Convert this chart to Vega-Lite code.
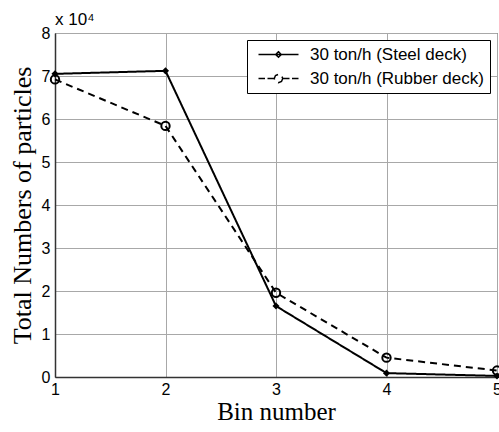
{
  "$schema": "https://vega.github.io/schema/vega-lite/v6.json",
  "width": 442,
  "height": 344,
  "padding": {"left": 55, "top": 33, "right": 2, "bottom": 55},
  "autosize": {"type": "none"},
  "background": "white",
  "title": {
    "text": "x 10⁴",
    "anchor": "start",
    "frame": "group",
    "font": "Liberation Sans",
    "fontSize": 17,
    "fontWeight": "normal",
    "color": "black",
    "offset": -4
  },
  "config": {
    "view": {"stroke": "#333333", "strokeWidth": 1},
    "axis": {
      "labelFont": "Liberation Sans",
      "labelFontSize": 16,
      "labelColor": "black",
      "titleFont": "Liberation Serif",
      "titleFontSize": 26,
      "titleFontWeight": "normal",
      "titleColor": "black",
      "grid": true,
      "gridColor": "#a8a8a8",
      "gridWidth": 1,
      "ticks": false,
      "domainColor": "#333333",
      "domainWidth": 1.5
    }
  },
  "data": {
    "values": [
      {"bin": 1, "count": 70500, "series": "30 ton/h (Steel deck)"},
      {"bin": 2, "count": 71200, "series": "30 ton/h (Steel deck)"},
      {"bin": 3, "count": 16500, "series": "30 ton/h (Steel deck)"},
      {"bin": 4, "count": 900, "series": "30 ton/h (Steel deck)"},
      {"bin": 5, "count": 250, "series": "30 ton/h (Steel deck)"},
      {"bin": 1, "count": 69200, "series": "30 ton/h (Rubber deck)"},
      {"bin": 2, "count": 58400, "series": "30 ton/h (Rubber deck)"},
      {"bin": 3, "count": 19600, "series": "30 ton/h (Rubber deck)"},
      {"bin": 4, "count": 4500, "series": "30 ton/h (Rubber deck)"},
      {"bin": 5, "count": 1500, "series": "30 ton/h (Rubber deck)"}
    ]
  },
  "encoding": {
    "x": {
      "field": "bin",
      "type": "quantitative",
      "scale": {"domain": [1, 5], "nice": false, "zero": false},
      "axis": {"values": [1, 2, 3, 4, 5], "title": "Bin number", "titleFontSize": 25, "labelPadding": 4, "titlePadding": 2, "labelFlush": false}
    },
    "y": {
      "field": "count",
      "type": "quantitative",
      "scale": {"domain": [0, 80000], "nice": false},
      "axis": {
        "values": [0, 10000, 20000, 30000, 40000, 50000, 60000, 70000, 80000],
        "labelExpr": "datum.value / 10000",
        "title": "Total Numbers of particles",
        "labelPadding": 5,
        "titlePadding": 6
      }
    }
  },
  "layer": [
    {
      "mark": {"type": "line", "color": "black", "strokeWidth": 2},
      "encoding": {
        "strokeDash": {
          "field": "series",
          "type": "nominal",
          "scale": {"domain": ["30 ton/h (Steel deck)", "30 ton/h (Rubber deck)"], "range": [[1, 0], [7, 5]]}
        }
      }
    },
    {
      "transform": [{"filter": "datum.series == '30 ton/h (Steel deck)'"}],
      "mark": {"type": "point", "shape": "diamond", "filled": true, "color": "black", "size": 50, "opacity": 1}
    },
    {
      "transform": [{"filter": "datum.series == '30 ton/h (Rubber deck)'"}],
      "mark": {"type": "point", "shape": "circle", "filled": false, "color": "black", "strokeWidth": 2, "size": 70, "opacity": 1}
    },
    {
      "mark": {"type": "point", "filled": true, "stroke": "black", "strokeWidth": 2, "opacity": 0},
      "encoding": {
        "shape": {
          "field": "series",
          "type": "nominal",
          "scale": {
            "domain": ["30 ton/h (Steel deck)", "30 ton/h (Rubber deck)"],
            "range": [
              "M-4,0H4M-0.55,0L0,-0.55L0.55,0L0,0.55Z",
              "M-4,0H-2.7M-2.2,0H-0.9M0.9,0H2.2M2.7,0H4M0.85,0L0.6,0.6L0,0.85L-0.6,0.6L-0.85,0L-0.6,-0.6L0,-0.85L0.6,-0.6Z"
            ]
          },
          "legend": {
            "title": null,
            "orient": "top-right",
            "offset": 7,
            "padding": 6,
            "strokeColor": "black",
            "fillColor": "white",
            "symbolSize": 100,
            "symbolOffset": 17,
            "labelOffset": 23,
            "labelFont": "Liberation Sans",
            "labelFontSize": 17,
            "labelColor": "black",
            "labelLimit": 400,
            "rowPadding": 6,
            "encode": {
              "symbols": {
                "update": {
                  "opacity": {"value": 1},
                  "stroke": {"value": "black"},
                  "strokeWidth": {"value": 2},
                  "strokeDash": {"value": [1, 0]},
                  "fill": {"signal": "datum.value === '30 ton/h (Steel deck)' ? 'black' : 'white'"}
                }
              }
            }
          }
        }
      }
    }
  ]
}
